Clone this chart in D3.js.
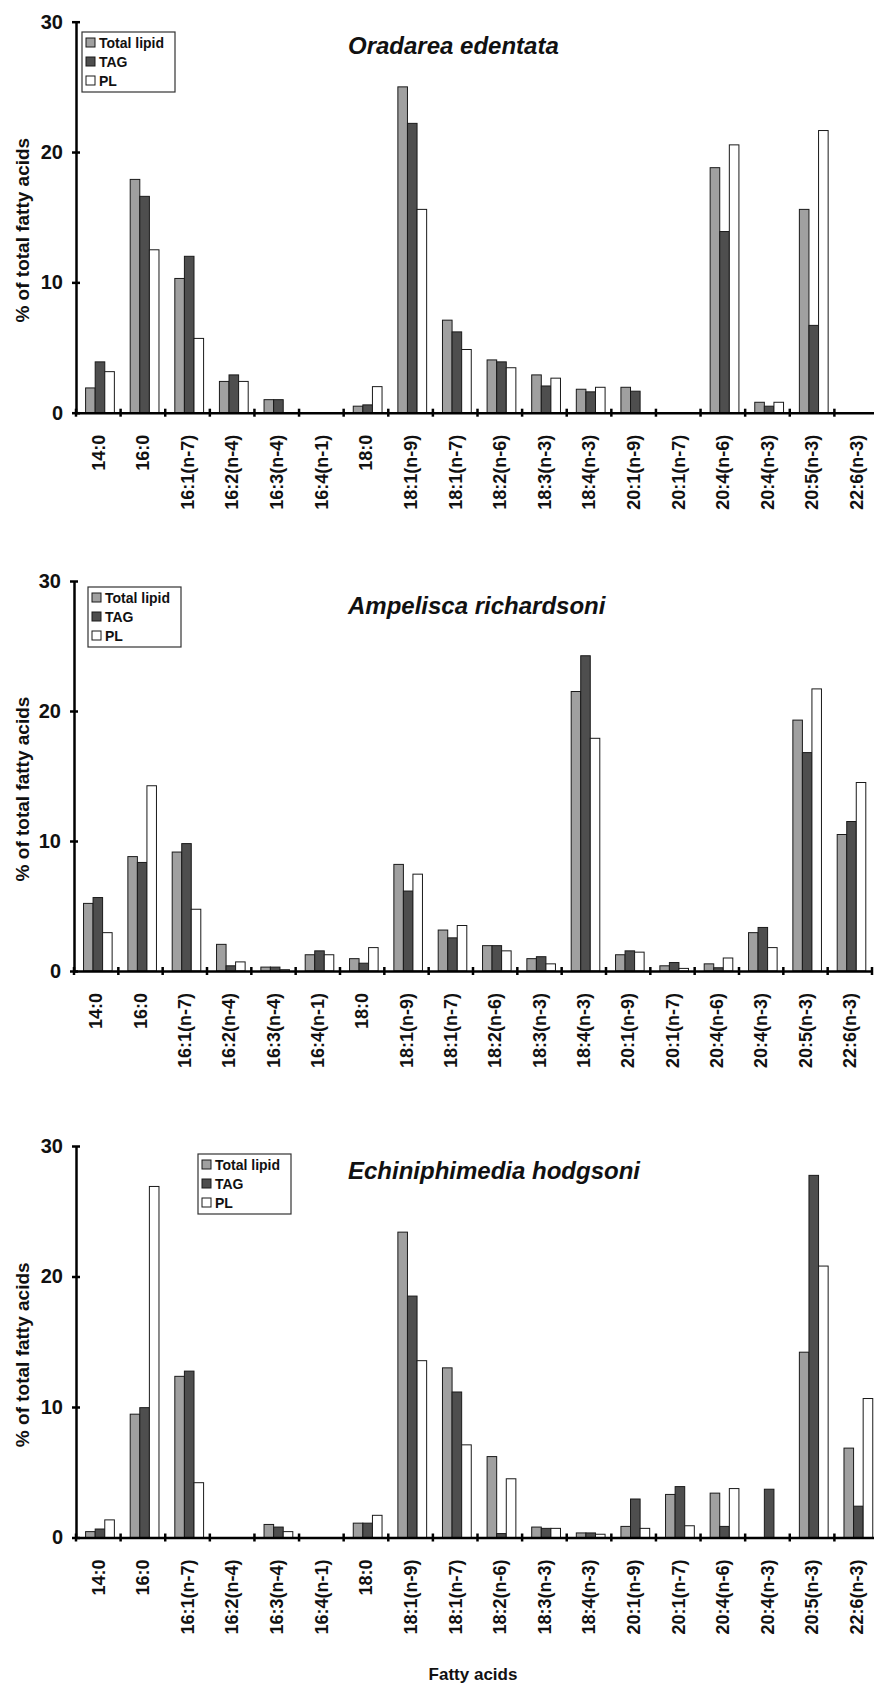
<!DOCTYPE html>
<html>
<head>
<meta charset="utf-8">
<script src="https://cdn.jsdelivr.net/npm/d3@7"></script>
<style>
  body { margin: 0; background: #fff; }
  svg { display: block; font-family: Arial, "Liberation Sans", sans-serif; }
</style>
</head>
<body>
<svg id="chart" width="874" height="1686"></svg>
<script>
// Fatty acid categories (x axis)
const fattyAcids = ["14:0", "16:0", "16:1(n-7)", "16:2(n-4)", "16:3(n-4)", "16:4(n-1)", "18:0",
    "18:1(n-9)", "18:1(n-7)", "18:2(n-6)", "18:3(n-3)", "18:4(n-3)", "20:1(n-9)", "20:1(n-7)",
    "20:4(n-6)", "20:4(n-3)", "20:5(n-3)", "22:6(n-3)"];
const seriesNames = ["Total lipid", "TAG", "PL"];
const yTicks = [0, 10, 20, 30];

// Oradarea edentata
const oradareaTotal = [1.9, 17.9, 10.3, 2.4, 1.0, 0, 0.5, 25.0, 7.1, 4.05, 2.9, 1.8, 1.95, 0, 18.8, 0.8, 15.6, 0];
const oradareaTAG   = [3.9, 16.6, 12.0, 2.9, 1.0, 0, 0.6, 22.2, 6.2, 3.9, 2.05, 1.6, 1.65, 0, 13.9, 0.5, 6.7, 0];
const oradareaPL    = [3.15, 12.5, 5.7, 2.4, 0, 0, 2.0, 15.6, 4.85, 3.45, 2.65, 1.95, 0, 0, 20.55, 0.8, 21.65, 0];

// Ampelisca richardsoni
const ampeliscaTotal = [5.2, 8.8, 9.15, 2.05, 0.3, 1.25, 0.95, 8.2, 3.15, 1.95, 0.95, 21.5, 1.25, 0.4, 0.55, 2.95, 19.3, 10.5];
const ampeliscaTAG   = [5.65, 8.35, 9.8, 0.4, 0.3, 1.55, 0.6, 6.15, 2.55, 1.95, 1.1, 24.25, 1.55, 0.65, 0.25, 3.35, 16.8, 11.5];
const ampeliscaPL    = [2.95, 14.25, 4.75, 0.7, 0.1, 1.25, 1.8, 7.45, 3.5, 1.55, 0.55, 17.9, 1.45, 0.2, 1.0, 1.8, 21.7, 14.5];

// Echiniphimedia hodgsoni
const echiniTotal = [0.45, 9.45, 12.35, 0, 1.0, 0, 1.1, 23.4, 13.0, 6.2, 0.8, 0.35, 0.85, 3.3, 3.4, 0, 14.2, 6.85];
const echiniTAG   = [0.65, 9.95, 12.75, 0, 0.8, 0, 1.1, 18.5, 11.15, 0.3, 0.7, 0.35, 2.95, 3.9, 0.85, 3.7, 27.75, 2.4];
const echiniPL    = [1.35, 26.9, 4.2, 0, 0.45, 0, 1.7, 13.55, 7.1, 4.5, 0.7, 0.25, 0.7, 0.9, 3.75, 0, 20.8, 10.65];

const colors = { "Total lipid": "#a0a0a0", "TAG": "#4e4e4e", "PL": "#ffffff" };

// layout of the three stacked panels
const panels = [
    { title: "Oradarea edentata", values: [oradareaTotal, oradareaTAG, oradareaPL],
      top: 21.7, zero: 412.7, left: 76, right: 879, legend: [82, 32] },
    { title: "Ampelisca richardsoni", values: [ampeliscaTotal, ampeliscaTAG, ampeliscaPL],
      top: 581, zero: 971, left: 74, right: 872, legend: [88, 587] },
    { title: "Echiniphimedia hodgsoni", values: [echiniTotal, echiniTAG, echiniPL],
      top: 1146, zero: 1537.5, left: 76, right: 879, legend: [198, 1154] }
];

const svg = d3.select("#chart");
svg.append("rect").attr("width", 874).attr("height", 1686).attr("fill", "#fff");

panels.forEach(p => drawPanel(p));

svg.append("text")
    .attr("x", 473).attr("y", 1680)
    .attr("text-anchor", "middle")
    .style("font-size", "17px").style("font-weight", "bold")
    .attr("fill", "#111")
    .text("Fatty acids");

function drawPanel(p) {
    const g = svg.append("g");

    const y = d3.scaleLinear().domain([0, 30]).range([p.zero, p.top]);
    const x0 = d3.scaleBand().domain(fattyAcids).range([p.left, p.right]);
    const bw = x0.bandwidth();
    const x1 = d3.scaleBand().domain(seriesNames).range([bw * 0.215, bw * 0.86]);

    // bars
    const rows = [];
    fattyAcids.forEach((fa, i) => {
        seriesNames.forEach((s, j) => {
            rows.push({ fa: fa, series: s, value: p.values[j][i] });
        });
    });

    g.append("g").selectAll("rect")
        .data(rows.filter(d => d.value > 0))
        .join("rect")
        .attr("x", d => x0(d.fa) + x1(d.series))
        .attr("y", d => y(d.value))
        .attr("width", x1.bandwidth())
        .attr("height", d => p.zero - y(d.value))
        .attr("fill", d => colors[d.series])
        .attr("stroke", "#1a1a1a")
        .attr("stroke-width", 1);

    // x axis with category labels
    const xAxis = g.append("g")
        .attr("transform", `translate(0,${p.zero})`)
        .call(d3.axisBottom(x0).tickSize(0));
    xAxis.select(".domain").attr("stroke", "#000").attr("stroke-width", 2.5);
    xAxis.selectAll("text")
        .attr("transform", "rotate(-90)")
        .attr("text-anchor", "end")
        .attr("x", -22).attr("y", 0)
        .attr("dy", "0.35em")
        .attr("fill", "#111")
        .style("font-size", "18px").style("font-weight", "bold")
        .style("font-family", "Arial, 'Liberation Sans', sans-serif");

    // boundary ticks between categories
    const bounds = d3.range(fattyAcids.length + 1).map(i => p.left + i * x0.step());
    g.append("g").selectAll("line")
        .data(bounds)
        .join("line")
        .attr("x1", d => d).attr("x2", d => d)
        .attr("y1", p.zero - 4).attr("y2", p.zero + 4)
        .attr("stroke", "#000").attr("stroke-width", 2.5);

    // y axis
    const yAxis = g.append("g")
        .attr("transform", `translate(${p.left},0)`)
        .call(d3.axisLeft(y).tickValues(yTicks).tickSize(4).tickSizeOuter(0));
    yAxis.select(".domain").attr("stroke", "#000").attr("stroke-width", 2.5);
    yAxis.selectAll(".tick line").attr("x1", 4).attr("x2", -4).attr("stroke-width", 2.5);
    yAxis.selectAll(".tick text")
        .attr("x", -13)
        .attr("fill", "#111")
        .style("font-size", "20px").style("font-weight", "bold")
        .style("font-family", "Arial, 'Liberation Sans', sans-serif");

    g.append("text")
        .attr("transform", `translate(29,${(p.top + p.zero) / 2 + 13}) rotate(-90)`)
        .attr("text-anchor", "middle")
        .attr("fill", "#111")
        .style("font-size", "19px").style("font-weight", "bold")
        .text("% of total fatty acids");

    // species title
    g.append("text")
        .attr("x", 348).attr("y", p.top + 32.5)
        .attr("fill", "#111")
        .style("font-size", "24px").style("font-weight", "bold").style("font-style", "italic")
        .text(p.title);

    // legend
    const lg = g.append("g").attr("transform", `translate(${p.legend[0]},${p.legend[1]})`);
    lg.append("rect")
        .attr("width", 93).attr("height", 60)
        .attr("fill", "#fff").attr("stroke", "#333").attr("stroke-width", 1.2);
    const item = lg.selectAll("g.item")
        .data(seriesNames)
        .join("g")
        .attr("class", "item")
        .attr("transform", (d, i) => `translate(0,${16 + i * 19})`);
    item.append("rect")
        .attr("x", 4).attr("y", -10)
        .attr("width", 9).attr("height", 9)
        .attr("fill", d => colors[d])
        .attr("stroke", "#1a1a1a").attr("stroke-width", 1);
    item.append("text")
        .attr("x", 17)
        .attr("fill", "#111")
        .style("font-size", "14px").style("font-weight", "bold")
        .text(d => d);
}
</script>
</body>
</html>
